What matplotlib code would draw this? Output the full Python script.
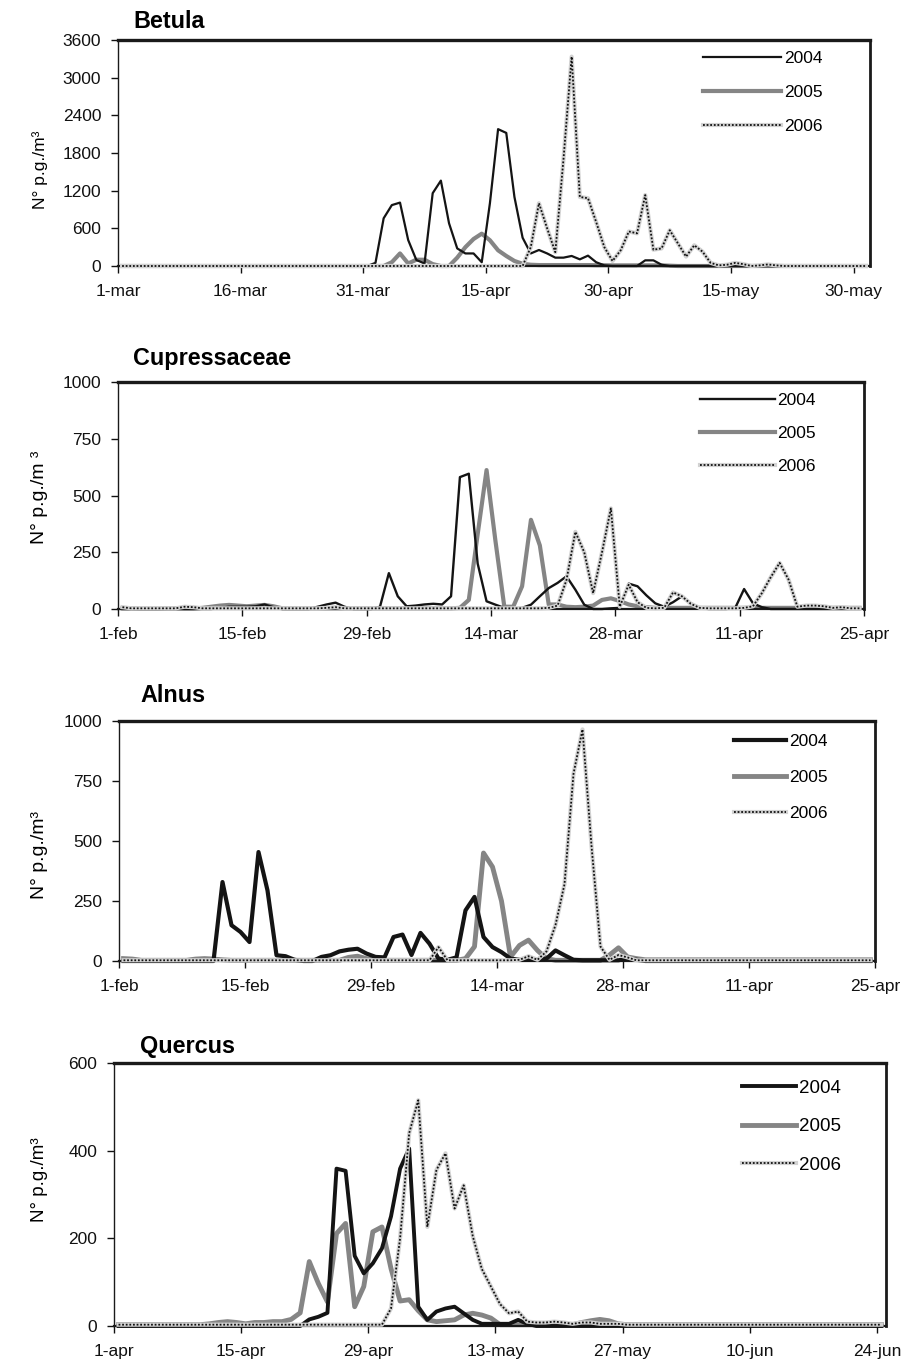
import numpy as np
import matplotlib
matplotlib.use("Agg")
import matplotlib.pyplot as plt
from matplotlib.legend_handler import HandlerTuple

plt.rcParams['font.family'] = ['Liberation Sans', 'DejaVu Sans']

# ---------------- data (daily pollen counts, N° p.g./m3) ----------------
years = ["2004", "2005", "2006"]

# Betula: 1-mar .. 31-may (92 days)
betula_ticks = [0, 15, 30, 45, 60, 75, 90]
betula_ticklabels = ["1-mar", "16-mar", "31-mar", "15-apr", "30-apr", "15-may", "30-may"]
betula_yticks = [0, 600, 1200, 1800, 2400, 3000, 3600]
betula_2004 = [0] * 31 + [50, 760, 970, 1010, 414, 96, 40, 1160, 1360, 680, 280, 200, 200, 60,
                          1000, 2180, 2120, 1100, 450, 200, 255, 200, 133, 133, 160, 106, 165, 60,
                          10, 0, 0, 0, 0, 90, 90, 20] + [0] * 25
betula_2005 = [0] * 33 + [60, 200, 40, 100, 100, 30, 0, 0, 133, 300, 430, 515, 410, 250, 160, 80,
                          35, 20, 15, 15, 15, 15, 15, 15, 15, 12, 12, 10, 10, 10, 10, 10, 10, 10,
                          5] + [0] * 24
betula_2006 = [0] * 50 + [300, 1000, 600, 220, 1700, 3335, 1100, 1080, 700, 300, 80, 250, 550, 520,
                          1130, 260, 280, 570, 360, 150, 330, 230, 50, 10, 20, 50, 30, 0, 10, 25,
                          10] + [0] * 11

# Cupressaceae: 1-feb .. 24-apr 2004 (84 days)
cupr_ticks = [0, 14, 28, 42, 56, 70, 84]
cupr_ticklabels = ["1-feb", "15-feb", "29-feb", "14-mar", "28-mar", "11-apr", "25-apr"]
cupr_yticks = [0, 250, 500, 750, 1000]
cupr_2004 = [0] * 11 + [5, 10, 10, 10, 12, 20, 8, 0, 0, 0, 0, 10, 20, 28, 10, 0, 0, 0, 10, 158,
                        56, 12, 15, 20, 23, 20, 56, 581, 596, 200, 34, 19, 5, 3, 5, 19, 56, 92,
                        115, 144, 85, 19, 0, 0, 3, 5, 112, 100, 60, 25, 10, 30, 56, 25, 5, 0, 0,
                        0, 5, 88, 25, 8] + [0] * 11
cupr_2005 = [3, 3, 2, 2, 2, 3, 3, 2, 2, 5, 10, 15, 18, 15, 12, 15, 18, 12, 3] + [3] * 19 + \
            [5, 40, 330, 612, 300, 10, 10, 100, 393, 280, 20, 20, 10, 8, 10, 15, 40, 47, 35,
             20, 12, 8] + [5] * 24
cupr_2006 = [8] + [3] * 6 + [10, 8] + [3] * 14 + [5, 8] + [3] * 23 + \
            [5, 15, 128, 340, 250, 70, 250, 443, 10, 107, 30, 5, 3, 5, 73, 56, 23, 5, 3, 3, 3,
             3, 5, 12, 70, 140, 203, 130, 10, 15, 15, 12, 5, 8, 3, 3]

# Alnus: 1-feb .. 24-apr (84 days)
alnus_ticks = [0, 14, 28, 42, 56, 70, 84]
alnus_ticklabels = ["1-feb", "15-feb", "29-feb", "14-mar", "28-mar", "11-apr", "25-apr"]
alnus_yticks = [0, 250, 500, 750, 1000]
alnus_2004 = [0] * 11 + [329, 149, 121, 79, 454, 294, 24, 20, 5, 0, 0, 17, 24, 40, 47, 51, 31,
                         17, 15, 100, 110, 25, 117, 72, 10, 5, 15, 211, 267, 100, 58, 37, 10, 5,
                         5, 5, 10, 44, 24, 5, 3, 3, 3, 3, 3, 10, 5] + [0] * 26
alnus_2005 = [10, 8] + [3] * 6 + [8, 10, 8, 5] + [3] * 13 + [15, 20, 10] + [3] * 10 + \
             [10, 60, 450, 392, 250, 17, 65, 87, 44, 10] + [3] * 6 + [25, 55, 17, 10] + [5] * 26
alnus_2006 = [3] * 35 + [58] + [3] * 8 + \
             [5, 20, 5, 40, 150, 320, 780, 965, 480, 60, 5, 25, 15] + [3] * 27

# Quercus: 1-apr .. 25-jun (85 days)
querc_ticks = [0, 14, 28, 42, 56, 70, 84]
querc_ticklabels = ["1-apr", "15-apr", "29-apr", "13-may", "27-may", "10-jun", "24-jun"]
querc_yticks = [0, 200, 400, 600]
querc_2004 = [0] * 21 + [15, 21, 30, 359, 354, 160, 120, 143, 177, 250, 359, 405, 44, 14, 33,
                         40, 44, 29, 14, 5, 5, 5, 5, 14, 5] + [0] * 39
querc_2005 = [3] * 10 + [5, 8, 10, 8, 5, 8, 8] + \
             [10, 10, 15, 30, 147, 97, 55, 211, 234, 44, 90, 215, 226, 131, 57, 60, 35, 14, 10,
              12, 14, 25, 29, 25, 18] + [3] * 9 + [8, 12, 15, 12, 5] + [3] * 29
querc_2006 = [3] * 30 + [40, 200, 440, 515, 226, 356, 394, 268, 321, 205, 130, 90, 50, 29, 33,
                         10, 8, 8, 10, 8, 5, 8, 8, 5, 5, 5] + [3] * 29

# ---------------- layout / style ----------------
W, H = 914, 1362
fig = plt.figure(figsize=(W / 100, H / 100), dpi=100)
fig.patch.set_facecolor("white")

BLACK = "#141414"
GREY = "#858585"

panels = [
    dict(title="Betula", series=(betula_2004, betula_2005, betula_2006), ticks=betula_ticks,
         ticklabels=betula_ticklabels, yticks=betula_yticks, box=(118, 40, 870, 266), xmax=92,
         lw04=1.6, lw05=3.0, title_xy=(133, 22), ylab=("N° p.g./m³", 12.5, 170),
         leg=(703, 58, 4.5, 12.5, 34)),
    dict(title="Cupressaceae", series=(cupr_2004, cupr_2005, cupr_2006), ticks=cupr_ticks,
         ticklabels=cupr_ticklabels, yticks=cupr_yticks, box=(118, 382, 864, 609), xmax=84,
         lw04=1.7, lw05=3.0, title_xy=(133, 358), ylab=("N° p.g./m ³", 14, 497),
         leg=(700, 400, 4.3, 12.5, 33)),
    dict(title="Alnus", series=(alnus_2004, alnus_2005, alnus_2006), ticks=alnus_ticks,
         ticklabels=alnus_ticklabels, yticks=alnus_yticks, box=(119, 721, 875, 961), xmax=84,
         lw04=3.0, lw05=3.5, title_xy=(140, 695), ylab=("N° p.g./m³", 14, 855),
         leg=(734, 741, 3.0, 12.5, 36)),
    dict(title="Quercus", series=(querc_2004, querc_2005, querc_2006), ticks=querc_ticks,
         ticklabels=querc_ticklabels, yticks=querc_yticks, box=(114, 1063, 886, 1326), xmax=85,
         lw04=2.8, lw05=3.5, title_xy=(140, 1047), ylab=("N° p.g./m³", 13.5, 1180),
         leg=(742, 1088, 2.9, 13.5, 37.5)),
]

for p in panels:
    l, t, r, b = p["box"]
    ax = fig.add_axes([l / W, 1 - b / H, (r - l) / W, (b - t) / H])
    y04, y05, y06 = (np.asarray(s, dtype=float) for s in p["series"])
    x = np.arange(len(y04)) + 0.5

    h04, = ax.plot(x, y04, color=BLACK, lw=p["lw04"], zorder=3)
    h05, = ax.plot(x, y05, color=GREY, lw=p["lw05"], zorder=2)
    h06a, = ax.plot(x, y06, color="#d2d2d2", lw=3.0, zorder=4)
    h06b, = ax.plot(x, y06, color="#111111", lw=1.3, dashes=(1.0, 1.0), zorder=5)

    ax.set_xlim(0, p["xmax"])
    ax.set_ylim(0, p["yticks"][-1])
    ax.set_xticks(p["ticks"])
    ax.set_xticklabels(p["ticklabels"])
    ax.set_yticks(p["yticks"])
    ax.set_yticklabels([str(v) for v in p["yticks"]])
    ax.tick_params(axis="both", direction="out", length=5, width=1.0, labelsize=12.5,
                   colors="#111111")
    ax.tick_params(axis="x", pad=8)
    ax.tick_params(axis="y", pad=7)

    ax.spines["top"].set_linewidth(2.4)
    ax.spines["right"].set_linewidth(2.0)
    ax.spines["left"].set_linewidth(1.0)
    ax.spines["bottom"].set_linewidth(1.6)
    for s in ax.spines.values():
        s.set_color("#1a1a1a")

    for ln in (h04, h05, h06a, h06b):
        ln.set_clip_on(False)

    tx, ty = p["title_xy"]
    fig.text(tx / W, 1 - ty / H, p["title"], fontsize=16.8, fontweight="bold",
             ha="left", va="center")
    ytxt, yfs, yy = p["ylab"]
    fig.text(40 / W, 1 - yy / H, ytxt, fontsize=yfs, rotation=90,
             ha="center", va="center")

    hx, hy, hl, fs, pitch = p["leg"]
    fs_px = fs * 100 / 72
    ls = max(0.05, (pitch - 0.87 * fs_px) / fs_px)
    ax.legend([h04, h05, (h06a, h06b)], years, loc="upper left",
              bbox_to_anchor=(hx / W, 1 - (hy - 0.435 * fs_px) / H),
              bbox_transform=fig.transFigure, frameon=False, borderpad=0,
              borderaxespad=0, handlelength=hl, handletextpad=0.15, labelspacing=ls,
              fontsize=fs, handler_map={tuple: HandlerTuple(ndivide=1, pad=0)})

fig.savefig("out.png", dpi=100, facecolor="white")
